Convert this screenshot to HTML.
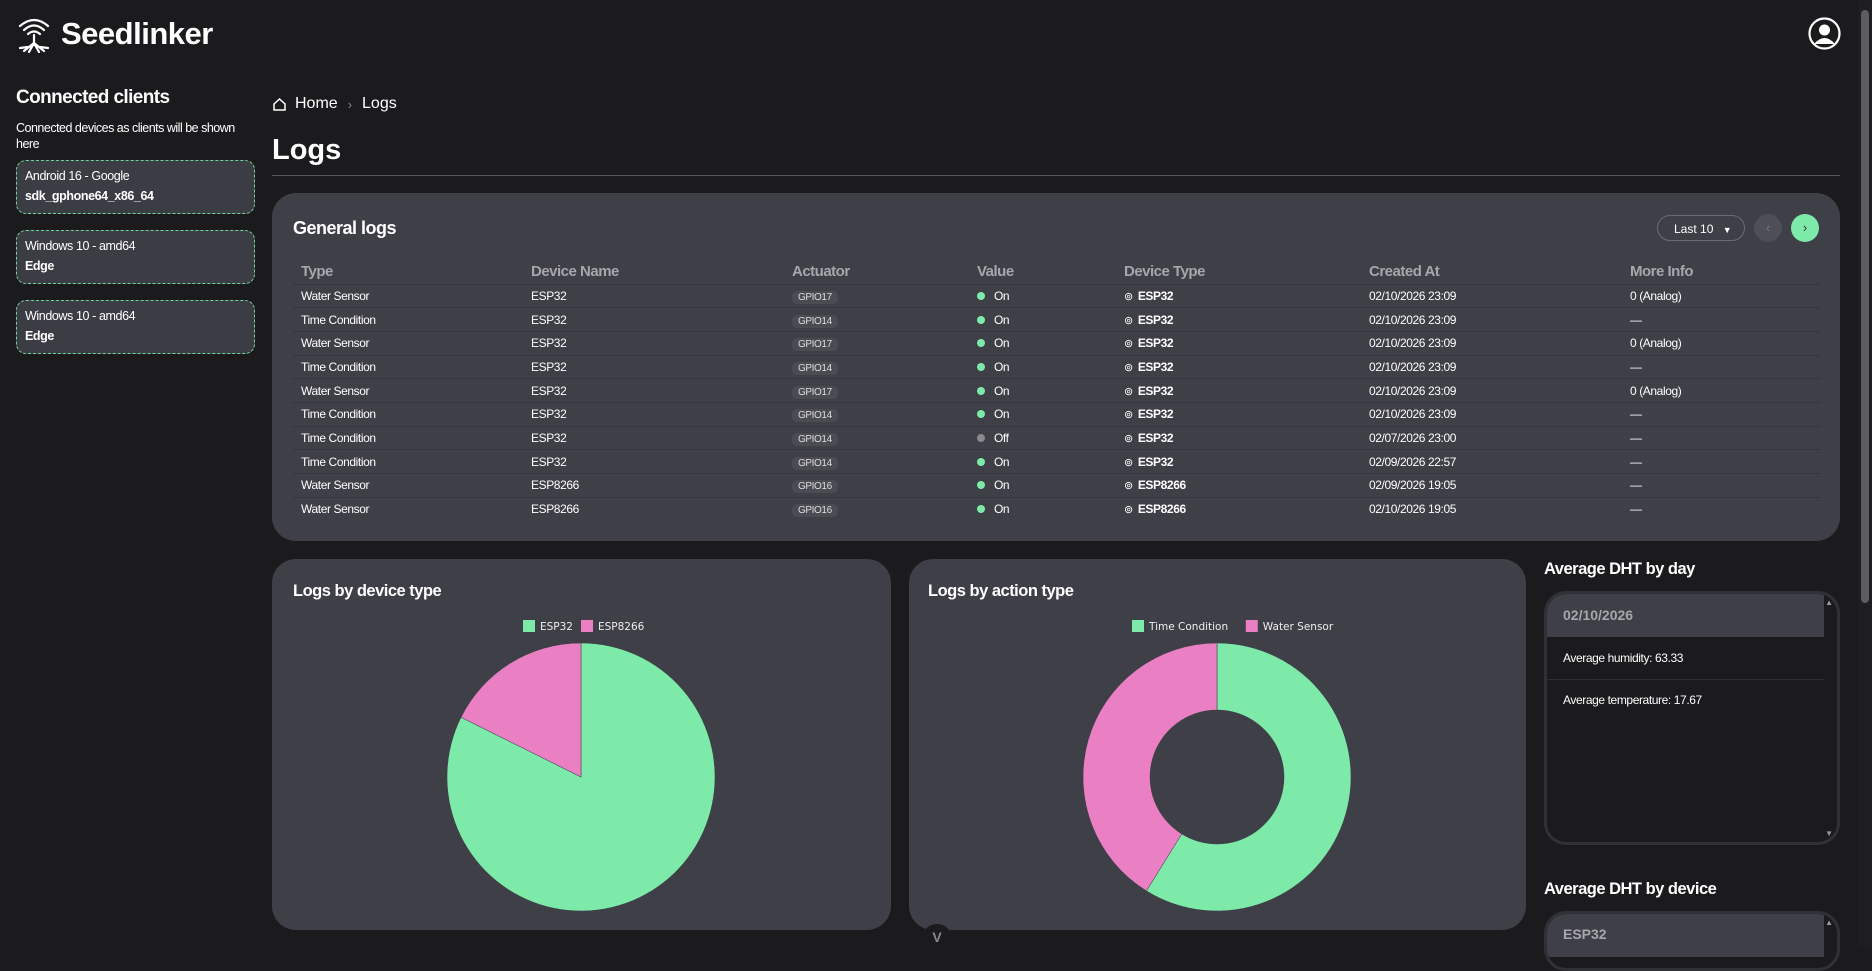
<!DOCTYPE html>
<html><head><meta charset="utf-8">
<style>
*{box-sizing:border-box;margin:0;padding:0}
body{width:1872px;height:948px;overflow:hidden;background:#1b1b1e;color:#fff;font-family:"Liberation Sans",sans-serif;position:relative}
.abs{position:absolute}
.card{background:#3e3f47;border-radius:24px;position:absolute}
.client{position:absolute;left:16px;width:239px;height:54px;border:1px dashed #6fd39a;border-radius:10px;background:#3c3d44;padding:8px 8px}
.client .a{font-size:12.5px;letter-spacing:-0.4px}
.client .b{font-size:12.5px;font-weight:bold;margin-top:6px;letter-spacing:-0.4px}
table{border-collapse:collapse;position:absolute;left:293px;top:259px;width:1528px;font-size:12px;letter-spacing:-0.4px}
th{color:#a6a6ac;font-size:15px;text-align:left;font-weight:bold;height:25px;padding-left:8px;letter-spacing:-0.5px}
td{height:23.7px;border-top:1px solid #35363d;padding-left:8px}
.chip{background:#4a4b53;border-radius:5px;font-size:10px;padding:1px 6px;color:#ddd}
.dot{display:inline-block;width:8px;height:8px;border-radius:50%;background:#7eeaa9;margin-right:9px}
.off{background:#8a8a8e}
.bold{font-weight:bold}
h2{font-size:18px;letter-spacing:-0.5px}
.leg{font-family:"DejaVu Sans",sans-serif;font-size:10.5px;color:#eee}
</style></head><body>
<div class="abs" style="left:16px;top:15px;display:flex;align-items:center">
<svg width="36" height="38" viewBox="0 0 36 38"><g fill="none" stroke="#fff" stroke-width="2.2" stroke-linecap="round"><path d="M4 11 Q18 -1 32 11"/><path d="M8 15 Q18 6 28 15"/><path d="M12 19 Q18 14 24 19"/><path d="M18 20 V30"/><path d="M18 28 L8 36 M18 28 L13 37 M18 28 L23 37 M18 28 L28 36 M12 32 L4 33 M24 32 L32 33"/></g></svg>
<span style="font-size:31px;font-weight:bold;margin-left:9px;letter-spacing:-0.5px">Seedlinker</span></div>
<svg class="abs" style="left:1808px;top:17px" width="33" height="33" viewBox="0 0 33 33"><circle cx="16.5" cy="16.5" r="15" fill="none" stroke="#fff" stroke-width="2.2"/><circle cx="16.5" cy="13" r="5.5" fill="#fff"/><path d="M6 27 Q16.5 15 27 27" fill="#fff"/></svg>

<div class="abs" style="left:16px;top:87px;font-size:19px;font-weight:bold;letter-spacing:-0.6px">Connected clients</div>
<div class="abs" style="left:16px;top:120px;width:232px;font-size:12.5px;line-height:16px;letter-spacing:-0.5px">Connected devices as clients will be shown here</div>
<div class="client" style="top:160px"><div class="a">Android 16 - Google</div><div class="b">sdk_gphone64_x86_64</div></div>
<div class="client" style="top:230px"><div class="a">Windows 10 - amd64</div><div class="b">Edge</div></div>
<div class="client" style="top:300px"><div class="a">Windows 10 - amd64</div><div class="b">Edge</div></div>

<div class="abs" style="left:272px;top:95px;font-size:16px;display:flex;align-items:center">
<svg width="15" height="15" viewBox="0 0 15 15"><path d="M2 7 L7.5 2 L13 7 V13 H2 Z" fill="none" stroke="#fff" stroke-width="1.5"/></svg>
<span style="margin-left:8px">Home</span><span style="color:#888;margin:0 10px;font-size:13px">›</span><span>Logs</span></div>
<div class="abs" style="left:272px;top:134px;font-size:29px;font-weight:bold">Logs</div>
<div class="abs" style="left:272px;top:175px;width:1568px;height:1px;background:#55565c"></div>

<div class="card" style="left:272px;top:193px;width:1568px;height:348px">
<h2 class="abs" style="left:21px;top:25px">General logs</h2>
<div class="abs" style="left:1385px;top:22px;width:88px;height:26px;border:1px solid #6a6b72;border-radius:13px;font-size:12px;padding:6px 0 0 16px">Last 10 <span style="font-size:9px;margin-left:6px">▼</span></div>
<div class="abs" style="left:1482px;top:21px;width:28px;height:28px;border-radius:50%;background:#4e4f56;color:#777;text-align:center;line-height:27px;font-size:13px">‹</div>
<div class="abs" style="left:1519px;top:21px;width:28px;height:28px;border-radius:50%;background:#7eeaa9;color:#333;text-align:center;line-height:27px;font-size:13px">›</div>
</div>
<table>
<colgroup><col style="width:230px"><col style="width:261px"><col style="width:185px"><col style="width:147px"><col style="width:245px"><col style="width:261px"><col></colgroup>
<thead><tr><th>Type</th><th>Device Name</th><th>Actuator</th><th>Value</th><th>Device Type</th><th>Created At</th><th>More Info</th></tr></thead>
<tbody id="tb"></tbody></table>

<div class="card" style="left:272px;top:559px;width:619px;height:371px">
<h2 class="abs" style="left:21px;top:23px;font-size:16.5px">Logs by device type</h2>
<svg class="abs" id="pie1" style="left:0;top:0" width="619" height="371"></svg></div>
<div class="card" style="left:909px;top:559px;width:617px;height:371px">
<h2 class="abs" style="left:19px;top:23px;font-size:16.5px">Logs by action type</h2>
<svg class="abs" id="pie2" style="left:0;top:0" width="617" height="371"></svg></div>

<h2 class="abs" style="left:1544px;top:560px;font-size:16.5px">Average DHT by day</h2>
<div class="abs" style="left:1544px;top:591px;width:296px;height:254px;border:3px solid #303136;border-radius:22px;overflow:hidden;background:#1b1b1e">
<div style="height:43px;width:277px;background:#3e3f47;color:#a6a6ac;font-weight:bold;font-size:14px;padding:13px 0 0 16px">02/10/2026</div>
<div style="font-size:12px;padding:14px 16px;width:277px;border-bottom:1px solid #2e2f34;letter-spacing:-0.4px">Average humidity: 63.33</div>
<div style="font-size:12px;padding:13px 16px;letter-spacing:-0.4px">Average temperature: 17.67</div>
<div class="abs" style="right:4px;top:4px;font-size:8px;color:#999">▲</div><div class="abs" style="right:4px;bottom:4px;font-size:8px;color:#999">▼</div>
</div>
<h2 class="abs" style="left:1544px;top:880px;font-size:16.5px">Average DHT by device</h2>
<div class="abs" style="left:1544px;top:911px;width:296px;height:60px;border:3px solid #303136;border-radius:22px;overflow:hidden">
<div style="height:43px;width:277px;background:#3e3f47;color:#a6a6ac;font-weight:bold;font-size:14px;padding:12px 0 0 16px">ESP32</div>
<div class="abs" style="right:4px;top:4px;font-size:8px;color:#999">▲</div></div>

<div class="abs" style="left:1858px;top:0;width:14px;height:948px;background:#1e1e21"></div>
<div class="abs" style="left:1861px;top:10px;width:8px;height:593px;background:#5c5d62;border-radius:4px"></div>
<div class="abs" style="left:922px;top:924px;width:30px;height:30px;border-radius:50%;background:#1b1b1e;color:#888;text-align:center;font-size:14px;line-height:26px;font-weight:bold">V</div>

<script>
const types=["Water Sensor","Time Condition","Water Sensor","Time Condition","Water Sensor","Time Condition","Time Condition","Time Condition","Water Sensor","Water Sensor"];
const devices=["ESP32","ESP32","ESP32","ESP32","ESP32","ESP32","ESP32","ESP32","ESP8266","ESP8266"];
const actuators=["GPIO17","GPIO14","GPIO17","GPIO14","GPIO17","GPIO14","GPIO14","GPIO14","GPIO16","GPIO16"];
const values=["On","On","On","On","On","On","Off","On","On","On"];
const created=["02/10/2026 23:09","02/10/2026 23:09","02/10/2026 23:09","02/10/2026 23:09","02/10/2026 23:09","02/10/2026 23:09","02/07/2026 23:00","02/09/2026 22:57","02/09/2026 19:05","02/10/2026 19:05"];
const info=["0 (Analog)","—","0 (Analog)","—","0 (Analog)","—","—","—","—","—"];
const tb=document.getElementById('tb');
types.forEach((t,i)=>{
 const tr=document.createElement('tr');
 
 
 tr.innerHTML=`<td>${t}</td><td>${devices[i]}</td><td><span class="chip">${actuators[i]}</span></td><td><span class="dot ${values[i]=='Off'?'off':''}"></span>${values[i]}</td><td class="bold"><span style="font-weight:normal;font-size:11px;margin-right:5px">⊚</span>${devices[i]}</td><td>${created[i]}</td><td>${info[i]}</td>`;
 tb.appendChild(tr);
});
const pie1Labels=["ESP32","ESP8266"];
const pie1Values=[14,3];
const pie2Labels=["Time Condition","Water Sensor"];
const pie2Values=[10,7];
const colors=["#7eeaa9","#ea7fc3"];
const NS="http://www.w3.org/2000/svg";
function drawPie(svg,labels,vals,cx,cy,r,ir,legX){
 const tot=vals.reduce((a,b)=>a+b,0);let a0=-Math.PI/2;
 vals.forEach((v,i)=>{
  const a1=a0+v/tot*2*Math.PI;const large=(a1-a0)>Math.PI?1:0;
  const p=(ang,rr)=>[cx+rr*Math.cos(ang),cy+rr*Math.sin(ang)];
  const [x0,y0]=p(a0,r),[x1,y1]=p(a1,r);
  let d;
  if(ir>0){const [x2,y2]=p(a1,ir),[x3,y3]=p(a0,ir);d=`M${x0},${y0}A${r},${r} 0 ${large} 1 ${x1},${y1}L${x2},${y2}A${ir},${ir} 0 ${large} 0 ${x3},${y3}Z`;}
  else d=`M${cx},${cy}L${x0},${y0}A${r},${r} 0 ${large} 1 ${x1},${y1}Z`;
  const path=document.createElementNS(NS,'path');
  path.setAttribute('d',d);path.setAttribute('fill',colors[i]);path.setAttribute('stroke','#3e3f47');path.setAttribute('stroke-width','0.5');
  
  
  svg.appendChild(path);a0=a1;
 });
 let x=legX;
 labels.forEach((l,i)=>{
  const g=document.createElementNS(NS,'g');
  
  
  const rc=document.createElementNS(NS,'rect');
  rc.setAttribute('x',x);rc.setAttribute('y',61);rc.setAttribute('width',12);rc.setAttribute('height',12);rc.setAttribute('fill',colors[i]);
  const tx=document.createElementNS(NS,'text');
  tx.setAttribute('x',x+17);tx.setAttribute('y',71);tx.setAttribute('class','leg');tx.setAttribute('fill','#eee');tx.textContent=l;
  g.appendChild(rc);g.appendChild(tx);svg.appendChild(g);
  x+=17+l.length*6.2+10;
 });
}
drawPie(document.getElementById('pie1'),pie1Labels,pie1Values,309,218,134,0,251);
drawPie(document.getElementById('pie2'),pie2Labels,pie2Values,308,218,134,67,223);
</script>
</body></html>
